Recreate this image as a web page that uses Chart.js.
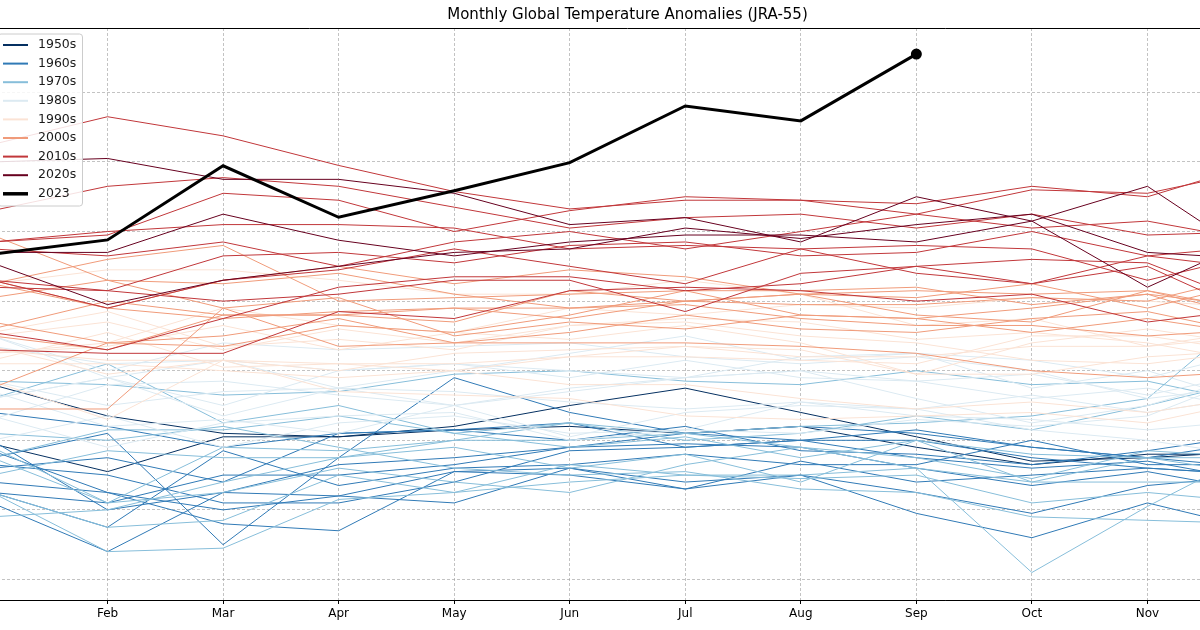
<!DOCTYPE html>
<html lang="en">
<head>
<meta charset="UTF-8" />
<title>Monthly Global Temperature Anomalies (JRA-55)</title>
<script src="https://cdn.jsdelivr.net/npm/chart.js"></script>
<style>
  html, body { margin: 0; padding: 0; background: #fff; overflow: hidden; }
  /* axes run Jan..Dec, the picture only shows the middle part */
  #grafik { display: block; margin-left: -8px; }
</style>
</head>
<body>
<canvas id="grafik" width="1271" height="630"></canvas>

<script>
// month axis and labels
const months = ['Jan', 'Feb', 'Mar', 'Apr', 'May', 'Jun', 'Jul', 'Aug', 'Sep', 'Oct', 'Nov', 'Dec'];
const monthTicks = [2, 3, 4, 5, 6, 7, 8, 9, 10, 11];
const yGrid = [-0.8, -0.6, -0.4, -0.2, 0, 0.2, 0.4, 0.6];

// legend (decades) - RdBu_r samples
const decadeLabels = ['1950s', '1960s', '1970s', '1980s', '1990s', '2000s', '2010s', '2020s', '2023'];
const decadeColors = ['#053061', '#307ab6', '#87beda', '#dceaf2', '#fbe3d5', '#f09b7a', '#c1373a', '#67001f', '#000000'];

// anomalies, Jan..Dec
const y1958 = [-0.24, -0.33, -0.38, -0.39, -0.36, -0.30, -0.25, -0.32, -0.39, -0.46, -0.45, -0.43];
const y1959 = [-0.41, -0.49, -0.39, -0.39, -0.37, -0.36, -0.38, -0.36, -0.42, -0.47, -0.44, -0.44];

const y1960 = [-0.40, -0.60, -0.55, -0.47, -0.45, -0.42, -0.38, -0.36, -0.38, -0.42, -0.45, -0.40];
const y1961 = [-0.32, -0.36, -0.42, -0.38, -0.37, -0.35, -0.42, -0.40, -0.45, -0.48, -0.46, -0.52];
const y1962 = [-0.45, -0.38, -0.70, -0.45, -0.22, -0.32, -0.38, -0.40, -0.40, -0.45, -0.48, -0.50];
const y1963 = [-0.47, -0.50, -0.58, -0.58, -0.52, -0.43, -0.42, -0.40, -0.37, -0.42, -0.45, -0.48];
const y1964 = [-0.43, -0.55, -0.60, -0.56, -0.58, -0.48, -0.54, -0.50, -0.61, -0.68, -0.58, -0.66];
const y1965 = [-0.52, -0.55, -0.64, -0.66, -0.49, -0.48, -0.52, -0.50, -0.55, -0.61, -0.53, -0.50];
const y1966 = [-0.55, -0.58, -0.50, -0.50, -0.47, -0.42, -0.41, -0.42, -0.48, -0.53, -0.49, -0.55];
const y1967 = [-0.55, -0.65, -0.43, -0.53, -0.48, -0.47, -0.44, -0.47, -0.47, -0.40, -0.47, -0.47];
const y1968 = [-0.58, -0.72, -0.55, -0.56, -0.49, -0.50, -0.54, -0.46, -0.52, -0.50, -0.48, -0.50];
const y1969 = [-0.48, -0.45, -0.52, -0.38, -0.37, -0.40, -0.36, -0.43, -0.44, -0.47, -0.43, -0.38];

const y1970 = [-0.28, -0.18, -0.35, -0.30, -0.38, -0.42, -0.39, -0.45, -0.40, -0.44, -0.45, -0.50];
const y1971 = [-0.42, -0.58, -0.55, -0.48, -0.52, -0.55, -0.47, -0.42, -0.48, -0.52, -0.52, -0.52];
const y1972 = [-0.62, -0.60, -0.52, -0.45, -0.40, -0.40, -0.38, -0.36, -0.35, -0.33, -0.28, 0.00];
const y1973 = [-0.23, -0.24, -0.27, -0.26, -0.21, -0.20, -0.23, -0.24, -0.20, -0.24, -0.23, -0.30];
const y1974 = [-0.55, -0.72, -0.71, -0.57, -0.55, -0.52, -0.50, -0.51, -0.50, -0.58, -0.55, -0.58];
const y1975 = [-0.38, -0.40, -0.36, -0.42, -0.48, -0.50, -0.49, -0.54, -0.55, -0.62, -0.63, -0.64];
const y1976 = [-0.55, -0.65, -0.63, -0.50, -0.55, -0.47, -0.50, -0.50, -0.48, -0.78, -0.59, -0.42];
const y1977 = [-0.45, -0.37, -0.37, -0.33, -0.38, -0.35, -0.38, -0.42, -0.45, -0.51, -0.43, -0.45];
const y1978 = [-0.50, -0.43, -0.45, -0.45, -0.42, -0.48, -0.44, -0.52, -0.40, -0.52, -0.45, -0.45];
const y1979 = [-0.45, -0.58, -0.42, -0.43, -0.40, -0.35, -0.40, -0.38, -0.33, -0.37, -0.30, -0.22];

const y1980 = [-0.28, -0.22, -0.30, -0.20, -0.18, -0.22, -0.17, -0.22, -0.23, -0.28, -0.25, -0.32];
const y1981 = [-0.10, -0.22, -0.17, -0.25, -0.30, -0.25, -0.22, -0.20, -0.28, -0.35, -0.30, -0.20];
const y1982 = [-0.40, -0.33, -0.42, -0.35, -0.33, -0.38, -0.37, -0.38, -0.34, -0.36, -0.33, -0.20];
const y1983 = [-0.13, -0.18, -0.17, -0.20, -0.18, -0.20, -0.22, -0.16, -0.15, -0.25, -0.20, -0.30];
const y1984 = [-0.26, -0.36, -0.34, -0.38, -0.30, -0.39, -0.32, -0.30, -0.31, -0.37, -0.40, -0.45];
const y1985 = [-0.33, -0.42, -0.35, -0.33, -0.32, -0.40, -0.37, -0.29, -0.33, -0.34, -0.37, -0.34];
const y1986 = [-0.23, -0.30, -0.26, -0.25, -0.26, -0.29, -0.31, -0.29, -0.31, -0.27, -0.32, -0.27];
const y1987 = [-0.28, -0.22, -0.33, -0.25, -0.20, -0.15, -0.10, -0.17, -0.15, -0.17, -0.22, -0.14];
const y1988 = [-0.10, -0.20, -0.12, -0.14, -0.13, -0.12, -0.16, -0.18, -0.16, -0.20, -0.28, -0.24];
const y1989 = [-0.34, -0.24, -0.23, -0.27, -0.30, -0.26, -0.22, -0.20, -0.23, -0.21, -0.27, -0.20];

const y1990 = [-0.15, -0.12, -0.02, -0.07, -0.09, -0.11, -0.07, -0.12, -0.21, -0.12, -0.08, -0.13];
const y1991 = [-0.10, -0.06, -0.14, -0.08, -0.12, -0.07, -0.06, -0.10, -0.12, -0.17, -0.18, -0.14];
const y1992 = [-0.14, -0.17, -0.17, -0.26, -0.27, -0.28, -0.33, -0.34, -0.33, -0.32, -0.35, -0.28];
const y1993 = [-0.18, -0.18, -0.20, -0.22, -0.20, -0.24, -0.24, -0.28, -0.31, -0.29, -0.32, -0.27];
const y1994 = [-0.23, -0.34, -0.17, -0.18, -0.20, -0.16, -0.16, -0.17, -0.18, -0.10, -0.10, -0.15];
const y1995 = [-0.09, -0.03, -0.13, -0.11, -0.14, -0.07, -0.05, -0.06, -0.11, -0.09, -0.12, -0.18];
const y1996 = [-0.17, -0.09, -0.19, -0.18, -0.18, -0.16, -0.13, -0.14, -0.21, -0.21, -0.16, -0.14];
const y1997 = [-0.15, -0.13, -0.07, -0.14, -0.09, -0.02, -0.04, -0.01, -0.02, 0.01, 0.00, -0.02];
const y1998 = [0.05, 0.09, 0.09, 0.06, 0.02, 0.02, 0.06, 0.02, -0.07, -0.05, -0.13, -0.08];
const y1999 = [-0.13, -0.21, -0.17, -0.20, -0.15, -0.14, -0.13, -0.16, -0.16, -0.13, -0.13, -0.10];

const y2000 = [-0.25, -0.12, -0.10, -0.05, -0.12, -0.12, -0.12, -0.13, -0.15, -0.20, -0.22, -0.20];
const y2001 = [-0.10, -0.14, -0.04, -0.04, -0.02, -0.02, 0.00, 0.02, -0.04, -0.06, 0.03, -0.05];
const y2002 = [0.05, 0.12, 0.16, 0.00, 0.01, 0.02, 0.03, -0.04, -0.05, -0.09, -0.05, -0.10];
const y2003 = [0.06, -0.02, -0.05, -0.03, -0.02, -0.05, 0.00, 0.02, 0.01, 0.05, -0.02, 0.06];
const y2004 = [0.01, 0.06, -0.02, 0.01, -0.10, -0.06, -0.08, -0.04, -0.05, -0.02, 0.02, -0.08];
const y2005 = [0.05, -0.02, 0.06, 0.10, 0.05, 0.09, 0.07, 0.02, 0.03, 0.02, 0.03, -0.03];
const y2006 = [-0.08, 0.00, -0.04, -0.04, -0.06, 0.03, 0.00, -0.01, -0.01, 0.01, 0.00, 0.08];
const y2007 = [0.19, 0.06, 0.05, 0.08, 0.02, -0.02, -0.01, -0.05, -0.07, -0.07, -0.10, -0.08];
const y2008 = [-0.31, -0.31, -0.02, -0.13, -0.12, -0.09, -0.04, -0.08, -0.09, -0.05, -0.03, -0.10];
const y2009 = [-0.06, -0.12, -0.13, -0.07, -0.09, -0.04, 0.03, 0.03, 0.04, -0.01, 0.02, -0.02];

const y2010 = [0.17, 0.20, 0.22, 0.22, 0.21, 0.15, 0.16, 0.15, 0.08, 0.05, 0.10, -0.05];
const y2011 = [-0.14, -0.15, -0.15, -0.03, -0.05, 0.03, 0.04, 0.03, 0.00, 0.02, -0.06, -0.02];
const y2012 = [-0.09, -0.14, -0.05, 0.04, 0.07, 0.07, 0.03, 0.05, 0.10, 0.12, 0.11, -0.02];
const y2013 = [0.04, 0.03, 0.00, 0.02, 0.06, 0.06, -0.03, 0.08, 0.10, 0.05, 0.13, 0.09];
const y2014 = [0.06, -0.02, 0.06, 0.09, 0.15, 0.10, 0.05, 0.15, 0.16, 0.15, 0.06, 0.14];
const y2015 = [0.15, 0.13, 0.17, 0.10, 0.17, 0.20, 0.15, 0.20, 0.25, 0.32, 0.31, 0.38];
const y2016 = [0.45, 0.53, 0.475, 0.39, 0.315, 0.265, 0.29, 0.29, 0.25, 0.21, 0.23, 0.17];
const y2017 = [0.26, 0.33, 0.355, 0.33, 0.27, 0.21, 0.24, 0.25, 0.21, 0.25, 0.19, 0.20];
const y2018 = [0.06, 0.03, 0.13, 0.14, 0.11, 0.16, 0.17, 0.13, 0.14, 0.20, 0.13, 0.16];
const y2019 = [0.17, 0.19, 0.31, 0.29, 0.20, 0.26, 0.30, 0.29, 0.28, 0.33, 0.30, 0.40];

const y2020 = [0.40, 0.41, 0.35, 0.35, 0.31, 0.22, 0.24, 0.17, 0.30, 0.23, 0.33, 0.11];
const y2021 = [0.11, -0.01, 0.06, 0.10, 0.14, 0.15, 0.21, 0.18, 0.22, 0.25, 0.14, 0.12];
const y2022 = [0.14, 0.14, 0.25, 0.175, 0.13, 0.17, 0.19, 0.19, 0.17, 0.23, 0.04, 0.19];

const y2023 = [0.135, 0.176, 0.389, 0.241, 0.317, 0.398, 0.561, 0.518, 0.710];

const years = [1958, 1959,
    1960, 1961, 1962, 1963, 1964, 1965, 1966, 1967, 1968, 1969,
    1970, 1971, 1972, 1973, 1974, 1975, 1976, 1977, 1978, 1979,
    1980, 1981, 1982, 1983, 1984, 1985, 1986, 1987, 1988, 1989,
    1990, 1991, 1992, 1993, 1994, 1995, 1996, 1997, 1998, 1999,
    2000, 2001, 2002, 2003, 2004, 2005, 2006, 2007, 2008, 2009,
    2010, 2011, 2012, 2013, 2014, 2015, 2016, 2017, 2018, 2019,
    2020, 2021, 2022];
const yearValues = [y1958, y1959,
    y1960, y1961, y1962, y1963, y1964, y1965, y1966, y1967, y1968, y1969,
    y1970, y1971, y1972, y1973, y1974, y1975, y1976, y1977, y1978, y1979,
    y1980, y1981, y1982, y1983, y1984, y1985, y1986, y1987, y1988, y1989,
    y1990, y1991, y1992, y1993, y1994, y1995, y1996, y1997, y1998, y1999,
    y2000, y2001, y2002, y2003, y2004, y2005, y2006, y2007, y2008, y2009,
    y2010, y2011, y2012, y2013, y2014, y2015, y2016, y2017, y2018, y2019,
    y2020, y2021, y2022];

function toPoints(vals) {
    return vals.map((v, i) => ({ x: i + 1, y: v }));
}

const datasets = years.map((yr, i) => ({
    label: String(yr),
    data: toPoints(yearValues[i]),
    borderColor: decadeColors[Math.floor(yr / 10) - 195],
    borderWidth: 1,
    pointRadius: 0,
    order: 3000 - yr
}));

datasets.push({
    label: '2023',
    data: toPoints(y2023),
    borderColor: '#000',
    backgroundColor: '#000',
    borderWidth: 3,
    pointRadius: y2023.map((v, i) => i === y2023.length - 1 ? 4 : 0),
    pointBackgroundColor: '#000',
    pointBorderColor: '#000',
    order: 0
});

// legend box + top spine, drawn on the canvas
const decadeLegend = {
    id: 'decadeLegend',
    afterDatasetsDraw(chart) {
        const ctx = chart.ctx;
        const a = chart.chartArea;
        const row = 18.6;
        const bx = a.left + 6, by = a.top + 6;
        const bw = 84.5, bh = 172;
        ctx.save();
        ctx.beginPath();
        ctx.roundRect(bx, by, bw, bh, 3);
        ctx.fillStyle = 'rgba(255,255,255,0.85)';
        ctx.fill();
        ctx.strokeStyle = '#cccccc';
        ctx.lineWidth = 1;
        ctx.stroke();
        ctx.font = '12.5px "DejaVu Sans"';
        ctx.textBaseline = 'middle';
        decadeLabels.forEach((lab, i) => {
            const cy = by + 11 + i * row;
            ctx.beginPath();
            ctx.moveTo(bx + 5, cy);
            ctx.lineTo(bx + 30, cy);
            ctx.strokeStyle = decadeColors[i];
            ctx.lineWidth = i === decadeLabels.length - 1 ? 3.5 : 2;
            ctx.stroke();
            ctx.fillStyle = '#1a1a1a';
            ctx.fillText(lab, bx + 40, cy);
        });
        ctx.restore();
    },
    afterDraw(chart) {
        const ctx = chart.ctx;
        const a = chart.chartArea;
        ctx.save();
        ctx.beginPath();
        ctx.moveTo(a.left, a.top + 0.5);
        ctx.lineTo(a.right, a.top + 0.5);
        ctx.strokeStyle = '#000';
        ctx.lineWidth = 1;
        ctx.stroke();
        ctx.restore();
    }
};

const grafik = new Chart(document.getElementById('grafik').getContext('2d'), {
    type: 'line',
    data: { datasets: datasets },
    options: {
        responsive: false,
        animation: false,
        devicePixelRatio: 1,
        layout: { padding: 0, autoPadding: false },
        elements: { line: { tension: 0 } },
        plugins: {
            legend: { display: false },
            tooltip: { enabled: false },
            title: {
                display: true,
                text: 'Monthly Global Temperature Anomalies (JRA-55)',
                color: '#000',
                font: { family: 'DejaVu Sans', size: 15, weight: 'normal' },
                padding: { top: 6, bottom: 4 }
            }
        },
        scales: {
            x: {
                type: 'linear',
                min: 1,
                max: 12,
                afterBuildTicks: (scale) => { scale.ticks = monthTicks.map(v => ({ value: v })); },
                afterFit: (scale) => {
                    scale.height = 30;
                    scale.paddingLeft = 0;
                    scale.paddingRight = 0;
                },
                ticks: {
                    callback: (v) => months[v - 1],
                    color: '#000',
                    font: { family: 'DejaVu Sans', size: 12 },
                    padding: 3,
                    maxRotation: 0,
                    autoSkip: false
                },
                grid: {
                    color: 'rgba(160,160,160,0.8)',
                    lineWidth: 0.8,
                    tickColor: '#000',
                    tickLength: 4,
                    tickWidth: 1,
                    tickBorderDash: []
                },
                border: { display: true, color: '#000', width: 1, dash: [3, 2] }
            },
            y: {
                type: 'linear',
                min: -0.859,
                max: 0.785,
                afterBuildTicks: (scale) => { scale.ticks = yGrid.map(v => ({ value: v })); },
                afterFit: (scale) => {
                    scale.width = 0;
                    scale.paddingTop = 0;
                    scale.paddingBottom = 0;
                },
                ticks: { display: false },
                grid: {
                    color: 'rgba(160,160,160,0.8)',
                    lineWidth: 0.8,
                    drawTicks: false
                },
                border: { display: false, dash: [3, 2] }
            }
        }
    },
    plugins: [decadeLegend]
});
</script>
</body>
</html>
